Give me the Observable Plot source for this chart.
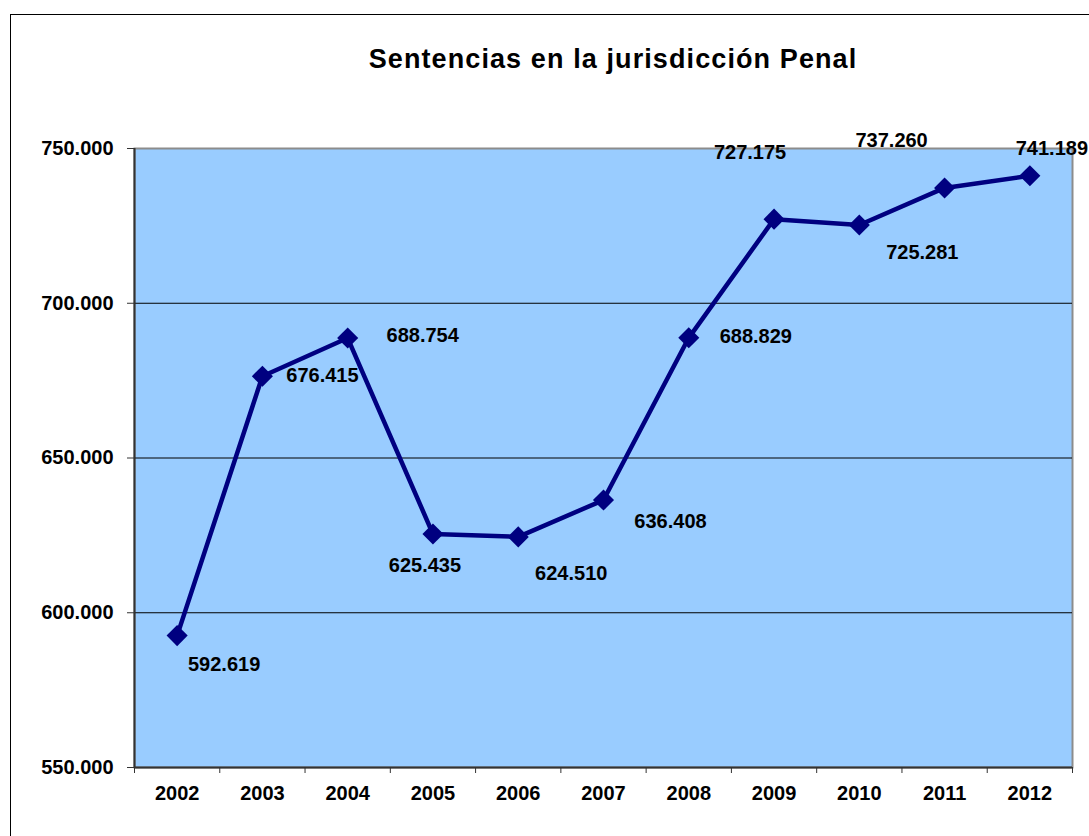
<!DOCTYPE html>
<html>
<head>
<meta charset="utf-8">
<script src="https://cdn.jsdelivr.net/npm/d3@7"></script>
<script src="https://cdn.jsdelivr.net/npm/@observablehq/plot@0.6"></script>
<style>
  html, body { margin: 0; padding: 0; background: #fff; overflow: hidden; width: 1089px; height: 836px; }
  #wrap { position: relative; width: 1089px; height: 836px; }
  #border { position: absolute; left: 10px; top: 14px; width: 1200px; height: 900px; border: 1.5px solid #000; box-sizing: border-box; }
  #title { position: absolute; left: 0; top: 46px; width: 1226px; text-align: center;
    font-family: "Liberation Sans", Arial, sans-serif; font-weight: bold; font-size: 27px; line-height: 27px; letter-spacing: 1.1px; color: #000; }
  #chart { position: absolute; left: 0; top: 0; }
</style>
</head>
<body>
<div id="wrap">
  <div id="border"></div>
  <div id="title">Sentencias en la jurisdicción Penal</div>
  <div id="chart"></div>
</div>
<script>
const years = [2002, 2003, 2004, 2005, 2006, 2007, 2008, 2009, 2010, 2011, 2012];
const sentencias = [592619, 676415, 688754, 625435, 624510, 636408, 688829, 727175, 725281, 737260, 741189];
const yTicks = [550000, 600000, 650000, 700000, 750000];
const gridTicks = [600000, 650000, 700000];
// label placement offsets (pixels) relative to each point, as in the original
const labelDx = [47, 60, 75, -8, 53, 67, 67, -24, 63, -53, 22];
const labelDy = [35, 6, 4, 38, 43, 28, 5, -60, 34, -41, -21];

const es = d3.formatLocale({decimal: ",", thousands: ".", grouping: [3], currency: ["", " €"]});
const fmt = es.format(",d");

const data = years.map((year, i) => ({year, value: sentencias[i]}));
const boundaries = years.map(y => y - 0.5).concat([years[years.length - 1] + 0.5]);
const x0 = boundaries[0], x1 = boundaries[boundaries.length - 1];

const font = {fontSize: 20, fontWeight: "bold"};

const labelMarks = data.map((d, i) => Plot.text([d], {
  x: "year", y: "value", text: d => fmt(d.value),
  dx: labelDx[i], dy: labelDy[i], lineAnchor: "bottom", textAnchor: "middle",
  fill: "#000", ...font
}));

const chart = Plot.plot({
  width: 1089,
  height: 836,
  marginLeft: 134,
  marginRight: 17,
  marginTop: 148,
  marginBottom: 69,
  style: {fontFamily: "'Liberation Sans', Arial, sans-serif", fontSize: "20px", fontWeight: "bold", background: "transparent", overflow: "visible"},
  x: {type: "linear", domain: [x0, x1], axis: null},
  y: {domain: [550000, 750000], axis: null},
  marks: [
    Plot.frame({fill: "#99CCFF", stroke: "#8c8c8c", strokeWidth: 2}),
    Plot.gridY(gridTicks, {stroke: "#000", strokeOpacity: 1, strokeWidth: 1}),
    Plot.ruleX([x0], {stroke: "#333", strokeWidth: 2}),
    Plot.ruleY([550000], {stroke: "#333", strokeWidth: 2}),
    Plot.axisY(yTicks, {tickSize: 7, tickPadding: 14, tickFormat: fmt, label: null, stroke: "#333", fill: "#000", ...font}),
    Plot.axisX(boundaries, {tickSize: 6, tickFormat: () => "", label: null, stroke: "#333"}),
    Plot.axisX(years, {tickSize: 0, tickPadding: 18, tickFormat: d => String(d), label: null, fill: "#000", ...font}),
    Plot.line(data, {x: "year", y: "value", stroke: "#000080", strokeWidth: 4.5, strokeLinejoin: "miter"}),
    Plot.dot(data, {x: "year", y: "value", symbol: "diamond2", r: 9.5, fill: "#000080", stroke: "none"}),
    ...labelMarks
  ]
});
document.getElementById("chart").appendChild(chart);
</script>
</body>
</html>
